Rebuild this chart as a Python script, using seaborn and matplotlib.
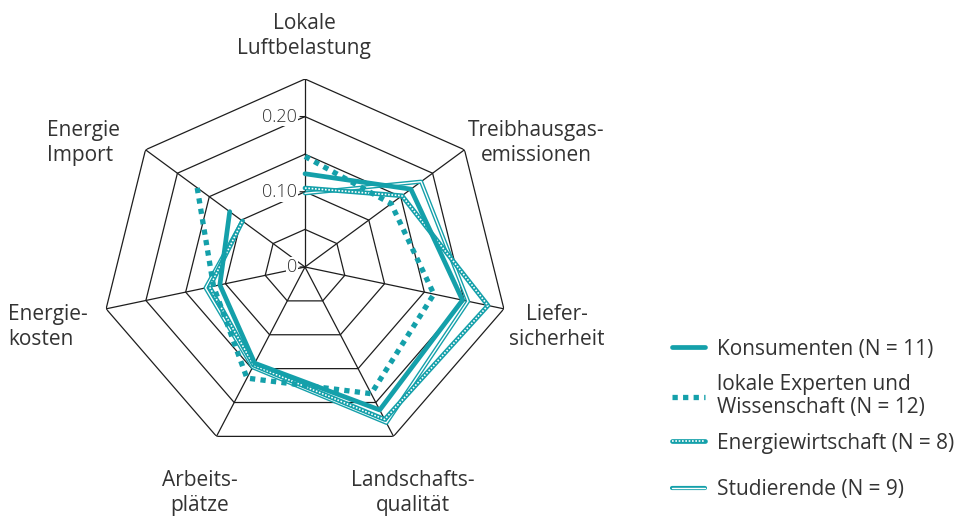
import numpy as np
import matplotlib
matplotlib.use("Agg")
import matplotlib.pyplot as plt
from matplotlib.lines import Line2D
import seaborn as sns
import pandas as pd

categories = ["Lokale\nLuftbelastung", "Treibhausgas-\nemissionen", "Liefer-\nsicherheit",
              "Landschafts-\nqualität", "Arbeits-\nplätze", "Energie-\nkosten", "Energie\nImport"]
konsumenten = [0.124, 0.166, 0.198, 0.211, 0.142, 0.107, 0.118]
experten = [0.147, 0.135, 0.162, 0.187, 0.164, 0.115, 0.169]
energiewirtschaft = [0.105, 0.152, 0.230, 0.225, 0.145, 0.120, 0.098]
studierende = [0.098, 0.182, 0.205, 0.230, 0.148, 0.125, 0.098]
series_names = ["Konsumenten (N = 11)", "lokale Experten und\nWissenschaft (N = 12)",
                "Energiewirtschaft (N = 8)", "Studierende (N = 9)"]
ring_values = [0.05, 0.10, 0.15, 0.20, 0.25]
tick_values = [0.0, 0.10, 0.20]
tick_labels = ["0", "0.10", "0.20"]

sns.set_theme(style="white")
plt.rcParams["font.family"] = ["Open Sans", "DejaVu Sans"]
FW = "normal"

TEAL = "#14a0aa"
TXT = "#333333"
GRID = "#1e1e1e"
FS = 15

fig = plt.figure(figsize=(9.74, 5.18), dpi=100)
W, H = 974, 518
cx, cy, Rx, Ry = 305, 267, 204, 188
ax = fig.add_axes([(cx - Rx) / W, (H - cy - Ry) / H, 2 * Rx / W, 2 * Ry / H], projection="polar")
ax.set_aspect("auto")
ax.set_theta_offset(np.pi / 2)
ax.set_theta_direction(-1)
ax.set_ylim(0, 0.25)
ax.grid(False)
ax.spines["polar"].set_visible(False)
ax.set_xticks([])
ax.set_yticks([])
ax.patch.set_alpha(0)

n = len(categories)
theta = np.arange(n) * 2 * np.pi / n
theta_c = np.append(theta, theta[0])

for rv in ring_values:
    ax.plot(theta_c, [rv] * (n + 1), color=GRID, lw=0.9, zorder=1)
for t in theta:
    ax.plot([t, t], [0, ring_values[-1]], color=GRID, lw=0.9, zorder=1)

def closed(vals):
    return pd.DataFrame({"theta": theta_c, "r": list(vals) + [vals[0]]})

d = closed(konsumenten)
sns.lineplot(data=d, x="theta", y="r", sort=False, ax=ax, color=TEAL, lw=3.4, zorder=5)
d = closed(experten)
sns.lineplot(data=d, x="theta", y="r", sort=False, ax=ax, color=TEAL, lw=3.8, zorder=5,
             linestyle=(0, (1.0, 1.0)))
d = closed(energiewirtschaft)
sns.lineplot(data=d, x="theta", y="r", sort=False, ax=ax, color=TEAL, lw=3.4, zorder=4)
sns.lineplot(data=d, x="theta", y="r", sort=False, ax=ax, color="white", lw=1.2, zorder=4,
             linestyle=(0, (1.0, 1.0)))
d = closed(studierende)
sns.lineplot(data=d, x="theta", y="r", sort=False, ax=ax, color=TEAL, lw=3.0, zorder=3)
sns.lineplot(data=d, x="theta", y="r", sort=False, ax=ax, color="white", lw=1.0, zorder=3)
ax.set_xlabel("")
ax.set_ylabel("")
if ax.get_legend():
    ax.get_legend().remove()

for v, lab in zip(tick_values, tick_labels):
    ax.annotate(lab, xy=(0, v), xytext=(-8, 0), textcoords="offset pixels", ha="right", va="center",
                fontsize=13, color=TXT, zorder=8, fontweight="light",
                bbox=dict(facecolor="white", edgecolor="none", pad=0.5))
    ax.annotate("", xy=(0, v), xytext=(-5, 0), textcoords="offset pixels",
                arrowprops=dict(arrowstyle="-", lw=0.9, color=GRID, shrinkA=0, shrinkB=0), zorder=8)

label_pos = [(304, 36, "center"), (536, 143, "center"), (557, 327, "center"), (413, 493, "center"),
             (200, 493, "center"), (8, 327, "left"), (47, 143, "left")]
for lab, (x, y, ha) in zip(categories, label_pos):
    fig.text(x / W, 1 - y / H, lab, ha=ha, va="center", fontsize=FS, color=TXT,
             linespacing=1.2, multialignment=ha, fontweight=FW)

handles = [
    Line2D([], [], color=TEAL, lw=3.4),
    Line2D([], [], color=TEAL, lw=3.8, linestyle=(0, (1.0, 1.0))),
    (Line2D([], [], color=TEAL, lw=3.4), Line2D([], [], color="white", lw=1.2, linestyle=(0, (1.0, 1.0)))),
    (Line2D([], [], color=TEAL, lw=3.0), Line2D([], [], color="white", lw=1.0)),
]
legend_y = [349, 396, 443, 490]
for hnd, name, y in zip(handles, series_names, legend_y):
    leg = fig.legend([hnd], [name], loc="center left", bbox_to_anchor=(672 / W, 1 - y / H),
                     frameon=False, fontsize=FS, handlelength=1.6, handletextpad=0.55,
                     borderpad=0, borderaxespad=0)
    for t in leg.get_texts():
        t.set_color(TXT)
        t.set_linespacing(1.15)
        t.set_fontweight(FW)

fig.savefig("out.png", dpi=100)
